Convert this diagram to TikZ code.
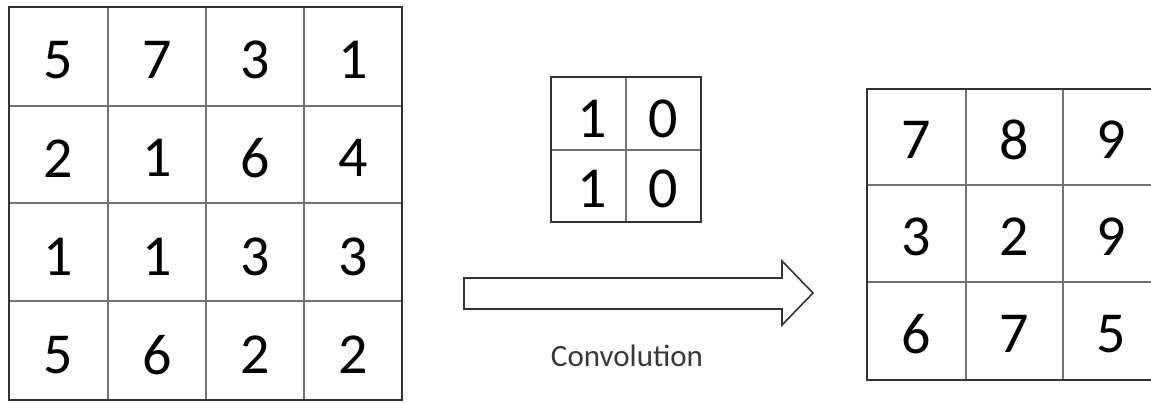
\documentclass[tikz,border=0pt]{standalone}
\usepackage{fontspec}
\setmainfont{Carlito}
\begin{document}
\begin{tikzpicture}[x=1pt,y=-1pt,
  cellbox/.style={draw=black!55, line width=1.2pt, fill=none, inner sep=0pt, outer sep=0pt,
    minimum width=#1},
  digit/.style={inner sep=0pt, font=\fontsize{58}{60}\selectfont, text=black},
  frame/.style={draw=black!80, line width=2pt},
  gridline/.style={draw=black!55, line width=1.2pt},
  arrowshape/.style={draw=black!80, line width=1.6pt, fill=white, line join=miter},
  caption/.style={inner sep=0pt, font=\fontsize{31}{34}\selectfont, text=black!78}]
\clip (0,0) rectangle (1151,402);
\fill[white] (0,0) rectangle (1151,402);

% ---------- input matrix (4x4) ----------
\def\xa{9}\def\xb{108}\def\xc{206}\def\xd{304}\def\xe{402}
\def\ya{7}\def\yb{106}\def\yc{203}\def\yd{301}\def\ye{400}
\foreach \x in {\xb,\xc,\xd} \draw[gridline] (\x,\ya) -- (\x,\ye);
\foreach \y in {\yb,\yc,\yd} \draw[gridline] (\xa,\y) -- (\xe,\y);
\draw[frame] (\xa,\ya) rectangle (\xe,\ye);
\foreach \v [count=\i from 0] in {5,7,3,1, 2,1,6,4, 1,1,3,3, 5,6,2,2}{
  \pgfmathtruncatemacro{\c}{mod(\i,4)}
  \pgfmathtruncatemacro{\r}{int(\i/4)}
  \node[digit] (in-\r-\c) at ({58.5+98.25*\c},{60+98.25*\r}) {\v};
}

% ---------- kernel (2x2) ----------
\draw[gridline] (626,77) -- (626,222);
\draw[gridline] (551,150) -- (701,150);
\draw[frame] (551,77) rectangle (701,222);
\node[digit] (k-0-0) at (592,119) {1};
\node[digit] (k-0-1) at (663,119) {0};
\node[digit] (k-1-0) at (592,189) {1};
\node[digit] (k-1-1) at (663,189) {0};

% ---------- convolution arrow ----------
\draw[arrowshape] (464,278) -- (782,278) -- (782,261) -- (813,293)
  -- (782,325) -- (782,309) -- (464,309) -- cycle;
\node[caption] (conv) at (627,356) {Convolution};

% ---------- output matrix (3x3) ----------
\draw[gridline] (966,89) -- (966,380);
\draw[gridline] (1063,89) -- (1063,380);
\draw[gridline] (867,185) -- (1160,185);
\draw[gridline] (867,282) -- (1160,282);
\draw[frame] (867,89) rectangle (1160,380);
\foreach \v [count=\i from 0] in {7,8,9, 3,2,9, 6,7,5}{
  \pgfmathtruncatemacro{\c}{mod(\i,3)}
  \pgfmathtruncatemacro{\r}{int(\i/3)}
  \node[digit] (out-\r-\c) at ({916.5+97.5*\c},{140+97*\r}) {\v};
}
\end{tikzpicture}
\end{document}
